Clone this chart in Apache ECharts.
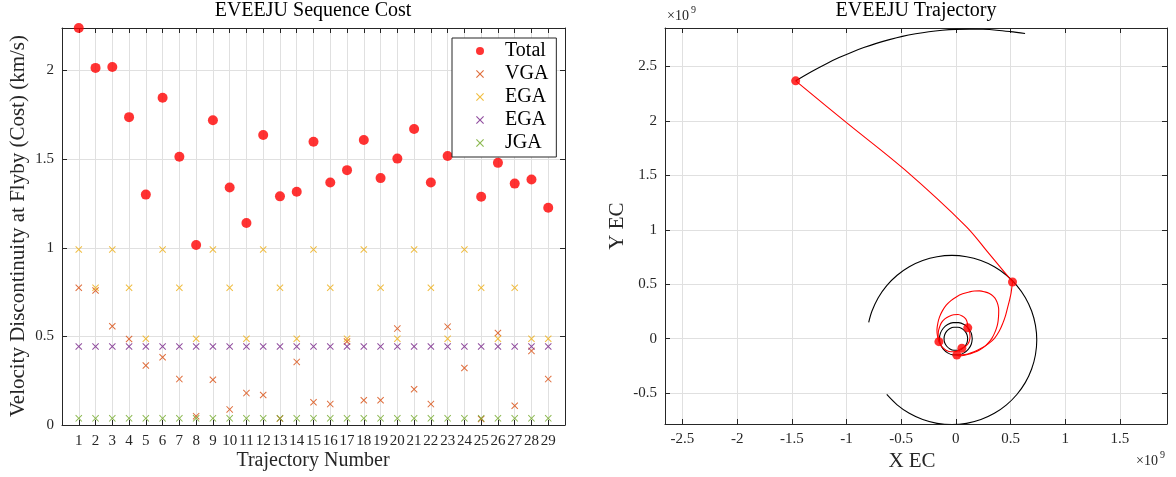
<!DOCTYPE html>
<html>
<head>
<meta charset="utf-8">
<script src="https://cdn.jsdelivr.net/npm/echarts@6/dist/echarts.min.js"></script>
<style>
  html, body { margin: 0; padding: 0; background: #fff; }
  #chart { width: 1176px; height: 477px; }
</style>
</head>
<body>
<div id="chart"></div>
<script>
// ---- Sequence cost per trajectory (km/s) ----
const trajectoryNumbers = [1, 2, 3, 4, 5, 6, 7, 8, 9, 10, 11, 12, 13, 14, 15, 16, 17, 18, 19, 20, 21, 22, 23, 24, 25, 26, 27, 28, 29];
const totalCost = [2.24, 2.015, 2.02, 1.737, 1.30, 1.846, 1.514, 1.016, 1.719, 1.34, 1.14, 1.636, 1.29, 1.316, 1.598, 1.368, 1.438, 1.608, 1.393, 1.503, 1.67, 1.368, 1.518, 1.79, 1.288, 1.479, 1.362, 1.385, 1.226];
const vgaCost = [0.774, 0.759, 0.557, 0.485, 0.336, 0.382, 0.259, 0.05, 0.255, 0.088, 0.18, 0.169, 0.036, 0.356, 0.128, 0.118, 0.471, 0.14, 0.14, 0.544, 0.202, 0.118, 0.555, 0.322, 0.034, 0.519, 0.109, 0.418, 0.259];
const egaCost1 = [0.99, 0.774, 0.99, 0.774, 0.487, 0.99, 0.774, 0.487, 0.99, 0.774, 0.487, 0.99, 0.774, 0.487, 0.99, 0.774, 0.487, 0.99, 0.774, 0.487, 0.99, 0.774, 0.487, 0.99, 0.774, 0.487, 0.774, 0.487, 0.487];
const egaCost2 = [0.4425, 0.4425, 0.4425, 0.4425, 0.4425, 0.4425, 0.4425, 0.4425, 0.4425, 0.4425, 0.4425, 0.4425, 0.4425, 0.4425, 0.4425, 0.4425, 0.4425, 0.4425, 0.4425, 0.4425, 0.4425, 0.4425, 0.4425, 0.4425, 0.4425, 0.4425, 0.4425, 0.4425, 0.4425];
const jgaCost = [0.0375, 0.0375, 0.0375, 0.0375, 0.0375, 0.0375, 0.0375, 0.0375, 0.0375, 0.0375, 0.0375, 0.0375, 0.0375, 0.0375, 0.0375, 0.0375, 0.0375, 0.0375, 0.0375, 0.0375, 0.0375, 0.0375, 0.0375, 0.0375, 0.0375, 0.0375, 0.0375, 0.0375, 0.0375];
const legendLabels = { 'Total': 'Total', 'VGA': 'VGA', 'EGA-1': 'EGA', 'EGA-2': 'EGA', 'JGA': 'JGA' };

// ---- Ecliptic trajectory (x10^9 km) ----
const uranusOrbitArc = [[-1.465, 2.368], [-1.322, 2.452], [-1.179, 2.528], [-1.068, 2.581], [-0.957, 2.629], [-0.842, 2.673], [-0.727, 2.712], [-0.608, 2.746], [-0.489, 2.776], [-0.368, 2.800], [-0.247, 2.819], [-0.124, 2.832], [0.0, 2.84], [0.125, 2.843], [0.249, 2.841], [0.373, 2.833], [0.497, 2.820], [0.633, 2.803]];
const jupiterOrbitArc = [[-0.632, -0.512], [-0.537, -0.607], [-0.426, -0.685], [-0.303, -0.742], [-0.172, -0.777], [-0.037, -0.789], [0.098, -0.777], [0.229, -0.742], [0.352, -0.685], [0.463, -0.607], [0.558, -0.512], [0.636, -0.401], [0.693, -0.278], [0.728, -0.147], [0.740, -0.012], [0.728, 0.123], [0.693, 0.254], [0.636, 0.377], [0.558, 0.488], [0.463, 0.583], [0.352, 0.661], [0.229, 0.718], [0.098, 0.753], [-0.037, 0.765], [-0.172, 0.753], [-0.303, 0.718], [-0.426, 0.661], [-0.537, 0.583], [-0.632, 0.488], [-0.710, 0.377], [-0.767, 0.254], [-0.797, 0.150]];
const earthOrbit = [[0.15, 0], [0.141, 0.051], [0.115, 0.096], [0.075, 0.130], [0.026, 0.148], [-0.026, 0.148], [-0.075, 0.130], [-0.115, 0.096], [-0.141, 0.051], [-0.15, 0], [-0.141, -0.051], [-0.115, -0.096], [-0.075, -0.130], [-0.026, -0.148], [0.026, -0.148], [0.075, -0.130], [0.115, -0.096], [0.141, -0.051], [0.15, 0]];
const venusOrbit = [[0.108, 0], [0.102, 0.037], [0.083, 0.069], [0.054, 0.094], [0.019, 0.106], [-0.019, 0.106], [-0.054, 0.094], [-0.083, 0.069], [-0.102, 0.037], [-0.108, 0], [-0.102, -0.037], [-0.083, -0.069], [-0.054, -0.094], [-0.019, -0.106], [0.019, -0.106], [0.054, -0.094], [0.083, -0.069], [0.102, -0.037], [0.108, 0]];
const legLaunchToVenus = [[0.109, 0.10], [0.125, 0.06], [0.13, 0.02], [0.12, -0.03], [0.095, -0.065], [0.055, -0.088]];
const legVenusToEarth = [[0.055, -0.088], [0.01, -0.115], [-0.04, -0.12], [-0.09, -0.105], [-0.13, -0.07], [-0.155, -0.027]];
const legEarthToEarth = [[-0.155, -0.027], [-0.168, 0.025], [-0.173, 0.080], [-0.165, 0.142], [-0.149, 0.201], [-0.122, 0.258], [-0.088, 0.308], [-0.045, 0.350], [0.004, 0.384], [0.062, 0.412], [0.125, 0.43], [0.170, 0.438], [0.216, 0.439], [0.265, 0.430], [0.307, 0.415], [0.343, 0.388], [0.369, 0.354], [0.385, 0.310], [0.392, 0.262], [0.390, 0.200], [0.383, 0.141], [0.370, 0.092], [0.353, 0.049], [0.332, 0.008], [0.307, -0.027], [0.265, -0.070], [0.216, -0.103], [0.170, -0.125], [0.125, -0.14], [0.080, -0.152], [0.034, -0.158], [0.009, -0.149]];
const legInnerLoop = [[-0.155, -0.027], [-0.162, 0.02], [-0.16, 0.065], [-0.148, 0.11], [-0.13, 0.15], [-0.098, 0.185], [-0.06, 0.207], [-0.02, 0.22], [0.02, 0.222], [0.058, 0.208], [0.09, 0.182], [0.105, 0.145], [0.109, 0.10]];
const legEarthToJupiter = [[0.009, -0.149], [0.06, -0.148], [0.109, -0.14], [0.172, -0.118], [0.232, -0.088], [0.296, -0.047], [0.353, 0.004], [0.396, 0.068], [0.429, 0.141], [0.455, 0.215], [0.475, 0.293], [0.492, 0.36], [0.505, 0.42], [0.518, 0.521]];
const legJupiterToUranus = [[0.518, 0.521], [0.444, 0.612], [0.292, 0.795], [0.095, 1.03], [-0.468, 1.552], [-1.0, 1.984], [-1.465, 2.368]];
const encounterPoints = [[0.109, 0.10], [0.055, -0.088], [-0.155, -0.027], [0.009, -0.149], [0.518, 0.521], [-1.465, 2.368]];

const FONT = '"Liberation Serif", "DejaVu Serif", serif';
const AXIS_COLOR = '#262626';
const GRID_COLOR = '#e0e0e0';
const CROSS = 'path://M0,1L1,0L5,4L9,0L10,1L6,5L10,9L9,10L5,6L1,10L0,9L4,5Z';

const tickStyle = { show: true, inside: true, length: 5, lineStyle: { color: AXIS_COLOR, width: 1 } };
const lineStyle = { show: true, onZero: false, lineStyle: { color: AXIS_COLOR, width: 1 } };
const labelStyle = { color: AXIS_COLOR, fontFamily: FONT, fontSize: 15 };

function mirrorAxis(base, position) {
  return Object.assign({}, base, {
    position: position,
    axisLabel: { show: false },
    splitLine: { show: false }
  });
}

const costX = {
  type: 'value', gridIndex: 0, min: 0, max: 30, interval: 1,
  axisLine: lineStyle, axisTick: tickStyle,
  axisLabel: Object.assign({}, labelStyle, { margin: 9, formatter: v => (v >= 1 && v <= 29) ? String(v) : '' }),
  splitLine: { show: true, lineStyle: { color: GRID_COLOR, width: 1 } }
};
const costY = {
  type: 'value', gridIndex: 0, min: 0, max: 2.24, interval: 0.5,
  axisLine: lineStyle, axisTick: tickStyle,
  axisLabel: Object.assign({}, labelStyle, { margin: 8, showMaxLabel: false }),
  splitLine: { show: true, lineStyle: { color: GRID_COLOR, width: 1 } }
};
const trajX = {
  type: 'value', gridIndex: 1, min: -2.66, max: 1.931, splitNumber: 9,
  axisLine: lineStyle, axisTick: tickStyle,
  axisLabel: Object.assign({}, labelStyle, { margin: 8, showMinLabel: false, showMaxLabel: false }),
  splitLine: { show: true, lineStyle: { color: GRID_COLOR, width: 1 } }
};
const trajY = {
  type: 'value', gridIndex: 1, min: -0.783, max: 2.853, splitNumber: 8,
  axisLine: lineStyle, axisTick: tickStyle,
  axisLabel: Object.assign({}, labelStyle, { margin: 8, showMinLabel: false, showMaxLabel: false }),
  splitLine: { show: true, lineStyle: { color: GRID_COLOR, width: 1 } }
};

function crossSeries(name, values, color) {
  return {
    name: name, type: 'scatter', xAxisIndex: 0, yAxisIndex: 0,
    symbol: CROSS, symbolSize: 7, z: 3,
    itemStyle: { color: color, opacity: 0.85 },
    data: trajectoryNumbers.map((n, i) => [n, values[i]])
  };
}

function pathSeries(points, color) {
  return {
    type: 'line', xAxisIndex: 2, yAxisIndex: 2, showSymbol: false, symbol: 'none',
    smooth: 0.35, z: color === '#ff0000' ? 3 : 2,
    lineStyle: { color: color, width: 1.1 },
    data: points
  };
}

const chart = echarts.init(document.getElementById('chart'), null, { renderer: 'canvas' });
chart.setOption({
  animation: false,
  backgroundColor: '#ffffff',
  grid: [
    { left: 62, top: 28, width: 503, height: 397 },
    { left: 665, top: 28, width: 502, height: 396 }
  ],
  xAxis: [costX, mirrorAxis(costX, 'top'), trajX, mirrorAxis(trajX, 'top')],
  yAxis: [
    Object.assign({}, costY, { position: 'left' }), mirrorAxis(costY, 'right'),
    Object.assign({}, trajY, { position: 'left' }), mirrorAxis(trajY, 'right')
  ],
  legend: {
    orient: 'vertical', left: 452, top: 38,
    padding: [3, 8, 4, 24], itemGap: 3, itemWidth: 40, itemHeight: 8,
    backgroundColor: '#ffffff', borderColor: AXIS_COLOR, borderWidth: 1, borderRadius: 0,
    data: ['Total', 'VGA', 'EGA-1', 'EGA-2', 'JGA'],
    formatter: name => legendLabels[name],
    textStyle: { fontFamily: FONT, fontSize: 20, color: '#000', lineHeight: 18 },
    selectedMode: false, z: 10
  },
  graphic: [
    { type: 'text', x: 313, y: 11, style: { text: 'EVEEJU Sequence Cost', fontFamily: FONT, fontSize: 20, fill: '#000', textAlign: 'center', textVerticalAlign: 'middle' } },
    { type: 'text', x: 916, y: 11, style: { text: 'EVEEJU Trajectory', fontFamily: FONT, fontSize: 20, fill: '#000', textAlign: 'center', textVerticalAlign: 'middle' } },
    { type: 'text', x: 313, y: 461, style: { text: 'Trajectory Number', fontFamily: FONT, fontSize: 20, fill: '#262626', textAlign: 'center', textVerticalAlign: 'middle' } },
    { type: 'text', x: 18, y: 226, rotation: Math.PI / 2, style: { text: 'Velocity Discontinuity at Flyby (Cost) (km/s)', fontFamily: FONT, fontSize: 21, fill: '#262626', textAlign: 'center', textVerticalAlign: 'middle' } },
    { type: 'text', x: 912, y: 461, style: { text: 'X EC', fontFamily: FONT, fontSize: 21, fill: '#262626', textAlign: 'center', textVerticalAlign: 'middle' } },
    { type: 'text', x: 617, y: 226, rotation: Math.PI / 2, style: { text: 'Y EC', fontFamily: FONT, fontSize: 21, fill: '#262626', textAlign: 'center', textVerticalAlign: 'middle' } },
    { type: 'text', x: 667, y: 16, style: { text: '×10', fontFamily: FONT, fontSize: 14, fill: '#262626', textAlign: 'left', textVerticalAlign: 'middle' } },
    { type: 'text', x: 691, y: 10, style: { text: '9', fontFamily: FONT, fontSize: 10, fill: '#262626', textAlign: 'left', textVerticalAlign: 'middle' } },
    { type: 'text', x: 1136, y: 461, style: { text: '×10', fontFamily: FONT, fontSize: 14, fill: '#262626', textAlign: 'left', textVerticalAlign: 'middle' } },
    { type: 'text', x: 1160, y: 455, style: { text: '9', fontFamily: FONT, fontSize: 10, fill: '#262626', textAlign: 'left', textVerticalAlign: 'middle' } }
  ],
  series: [
    {
      name: 'Total', type: 'scatter', xAxisIndex: 0, yAxisIndex: 0,
      symbol: 'circle', symbolSize: 10, z: 2,
      itemStyle: { color: '#ff0000' },
      data: trajectoryNumbers.map((n, i) => [n, totalCost[i]])
    },
    crossSeries('VGA', vgaCost, '#D95319'),
    crossSeries('EGA-1', egaCost1, '#EDB120'),
    crossSeries('EGA-2', egaCost2, '#7E2F8E'),
    crossSeries('JGA', jgaCost, '#77AC30'),

    pathSeries(uranusOrbitArc, '#000000'),
    pathSeries(jupiterOrbitArc, '#000000'),
    pathSeries(earthOrbit, '#000000'),
    pathSeries(venusOrbit, '#000000'),
    pathSeries(legLaunchToVenus, '#ff0000'),
    pathSeries(legVenusToEarth, '#ff0000'),
    pathSeries(legEarthToEarth, '#ff0000'),
    pathSeries(legInnerLoop, '#ff0000'),
    pathSeries(legEarthToJupiter, '#ff0000'),
    pathSeries(legJupiterToUranus, '#ff0000'),
    {
      type: 'scatter', xAxisIndex: 2, yAxisIndex: 2,
      symbol: 'circle', symbolSize: 9, z: 4,
      itemStyle: { color: '#ff0000' },
      data: encounterPoints
    }
  ]
});
</script>
</body>
</html>
